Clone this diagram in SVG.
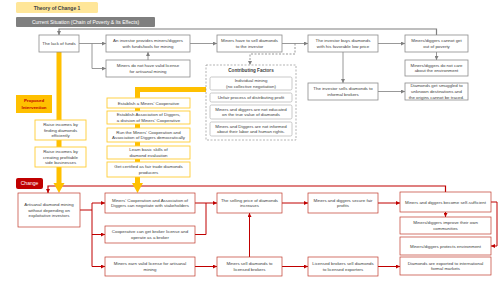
<svg xmlns="http://www.w3.org/2000/svg" width="500" height="281" viewBox="0 0 500 281">
<style>
text{font-family:"Liberation Sans",Arial,sans-serif;font-size:4.4px;fill:#404040;text-anchor:middle}
.g rect{fill:#fff;stroke:#8c8c8c;stroke-width:0.8}
.y rect{fill:#fff;stroke:#ffcc33;stroke-width:0.9}
.r rect{fill:#fff;stroke:#c0392b;stroke-width:0.7}
.cf rect{fill:#fff;stroke:#a6a6a6;stroke-width:0.6}
.gl{fill:none;stroke:#7f7f7f;stroke-width:0.8}
.rl{fill:none;stroke:#c00000;stroke-width:1}
.yl{fill:none;stroke:#ffc000;stroke-width:5}
</style>
<defs>
<marker id="ga" markerUnits="userSpaceOnUse" markerWidth="4" markerHeight="4" refX="4" refY="2" orient="auto"><path d="M0,0 L4,2 L0,4 z" fill="#7f7f7f"/></marker>
<marker id="ra" markerUnits="userSpaceOnUse" markerWidth="4" markerHeight="4" refX="4" refY="2" orient="auto"><path d="M0,0 L4,2 L0,4 z" fill="#c00000"/></marker>
</defs>

<g id="title"><rect x="16" y="2" width="82" height="11" rx="1.5" fill="#ffe699"/><text x="57" y="9.5" style="font-size:5px;font-weight:bold">Theory of Change 1</text></g>
<g id="current"><rect x="16" y="17" width="139" height="10" rx="1" fill="#7f7f7f"/><text x="85.5" y="23.7" style="font-size:5px;fill:#fff">Current Situation (Chain of Poverty &amp; Its Effects)</text></g>

<g id="connectors-top">
<path class="gl" style="stroke-width:1.2" d="M436.5,35 V29 H59 V35" marker-end="url(#ga)"/>
<path class="gl" d="M79,43.5 H106" marker-end="url(#ga)"/>
<path class="gl" d="M92,43.5 V68.5 H106" marker-end="url(#ga)"/>
<path class="gl" d="M148,60 V52" marker-end="url(#ga)"/>
<path class="gl" d="M190,43.5 H217" marker-end="url(#ga)"/>
<path class="gl" d="M282,43.5 H308" marker-end="url(#ga)"/>
<path class="gl" d="M378,43.5 H405" marker-end="url(#ga)"/>
<path class="gl" d="M343,52 V83" marker-end="url(#ga)"/>
<path class="gl" d="M378,91.5 H405" marker-end="url(#ga)"/>
<path class="gl" d="M436.5,52 V60" marker-end="url(#ga)"/>
<path class="gl" d="M295,43.5 V54 H250 V65" stroke-dasharray="2,1.5" marker-end="url(#ga)"/>
</g>

<g id="yellow-lines">
<path class="yl" d="M59,52 V184"/>
<path class="yl" d="M206,89.5 H137.5 V184"/>
</g>

<g id="lack" class="g"><rect x="39" y="35" width="40" height="17"/><text x="59" y="45">The lack of funds</text></g>
<g id="investor-provides" class="g"><rect x="106" y="35" width="84" height="17"/><text x="148" y="42.1">An investor provides miners/diggers</text><text x="148" y="47.9">with funds/tools for mining</text></g>
<g id="no-license" class="g"><rect x="106" y="60" width="84" height="17"/><text x="148" y="67.1">Miners do not have valid license</text><text x="148" y="72.9">for artisanal mining</text></g>
<g id="sell-investor" class="g"><rect x="217" y="35" width="65" height="17"/><text x="249.5" y="42.1">Miners have to sell diamonds</text><text x="249.5" y="47.9">to the investor</text></g>
<g id="investor-buys" class="g"><rect x="308" y="35" width="70" height="17"/><text x="343" y="42.1">The investor buys diamonds</text><text x="343" y="47.9">with his favorable low price</text></g>
<g id="investor-sells" class="g"><rect x="308" y="83" width="70" height="17"/><text x="343" y="90.1">The investor sells diamonds to</text><text x="343" y="95.9">informal brokers</text></g>
<g id="poverty" class="g"><rect x="405" y="35" width="63" height="17"/><text x="436.5" y="42.1">Miners/diggers cannot get</text><text x="436.5" y="47.9">out of poverty</text></g>
<g id="environment" class="g"><rect x="405" y="60" width="63" height="16"/><text x="436.5" y="66.6">Miners/diggers do not care</text><text x="436.5" y="72.4">about the environment</text></g>
<g id="smuggled" class="g"><rect x="405" y="83" width="63" height="17"/><text x="436.5" y="87.2">Diamonds get smuggled to</text><text x="436.5" y="93">unknown destinations and</text><text x="436.5" y="98.8">the origins cannot be traced.</text></g>

<g id="contributing" class="cf">
<rect x="206" y="65" width="90" height="75" stroke-dasharray="2,1.5" style="stroke:#7f7f7f"/>
<text x="251" y="72.2" style="font-size:4.6px;font-weight:bold">Contributing  Factors</text>
<rect x="210" y="77" width="82" height="13" rx="1.5"/><text x="251" y="82.1">Individual mining</text><text x="251" y="87.9">(no collective negotiation)</text>
<rect x="210" y="93" width="82" height="9" rx="1.5"/><text x="251" y="99">Unfair process of distributing profit</text>
<rect x="210" y="105" width="82" height="14" rx="1.5"/><text x="251" y="110.6">Miners and diggers are not educated</text><text x="251" y="116.4">on the true value of diamonds</text>
<rect x="210" y="122" width="82" height="14" rx="1.5"/><text x="251" y="127.6">Miners and Diggers are not informed</text><text x="251" y="133.4">about their labor and human rights.</text>
</g>

<g id="proposed"><rect x="16" y="95" width="36" height="18" fill="#ffc000"/><text x="34" y="102.3" style="font-size:4.4px;font-weight:bold;fill:#c00000">Proposed</text><text x="34" y="108.7" style="font-size:4.4px;font-weight:bold;fill:#c00000">Intervention</text></g>

<g id="raise-efficient" class="y"><rect x="35" y="120" width="51" height="20"/><text x="60.5" y="125.7">Raise incomes by</text><text x="60.5" y="131.5">finding diamonds</text><text x="60.5" y="137.3">efficiently</text></g>
<g id="raise-side" class="y"><rect x="35" y="147" width="51" height="20"/><text x="60.5" y="152.7">Raise incomes by</text><text x="60.5" y="158.5">creating profitable</text><text x="60.5" y="164.3">side businesses</text></g>
<g id="establish-coop" class="y"><rect x="107" y="98" width="83" height="10"/><text x="148.5" y="104.5">Establish a Miners' Cooperative</text></g>
<g id="establish-assoc" class="y"><rect x="107" y="111" width="83" height="13"/><text x="148.5" y="116.1">Establish Association of Diggers,</text><text x="148.5" y="121.9">a division of Miners' Cooperative</text></g>
<g id="run-coop" class="y"><rect x="107" y="128" width="83" height="14"/><text x="148.5" y="133.6">Run the Miners' Cooperation and</text><text x="148.5" y="139.4">Association of Diggers democratically</text></g>
<g id="learn" class="y"><rect x="107" y="146" width="83" height="13"/><text x="148.5" y="151.1">Learn basic skills of</text><text x="148.5" y="156.9">diamond evaluation</text></g>
<g id="certified" class="y"><rect x="107" y="162" width="83" height="15"/><text x="148.5" y="168.1">Get certified as fair trade diamonds</text><text x="148.5" y="173.9">producers</text></g>

<g id="change-label"><rect x="16" y="178" width="27" height="11" rx="2" fill="#c00000"/><text x="29.5" y="185.3" style="font-size:5px;fill:#fff">Change</text></g>

<g id="connectors-change">
<path class="rl" style="stroke-width:1.2" d="M445.5,192 V186 H48 V193" marker-end="url(#ra)"/>
<path class="rl" d="M80,210 H92 M92,203 V266.5"/>
<path class="rl" d="M92,203 H105" marker-end="url(#ra)"/>
<path class="rl" d="M92,234.5 H105" marker-end="url(#ra)"/>
<path class="rl" d="M92,266.5 H105" marker-end="url(#ra)"/>
<path class="rl" d="M195,203 H217" marker-end="url(#ra)"/>
<path class="rl" d="M195,234.5 H206 V203"/>
<path class="rl" d="M195,266.5 H217" marker-end="url(#ra)"/>
<path class="rl" d="M249.5,257 V213" marker-end="url(#ra)"/>
<path class="rl" d="M282,266.5 H308" marker-end="url(#ra)"/>
<path class="rl" d="M282,203 H308" marker-end="url(#ra)"/>
<path class="rl" d="M378,203 H400" marker-end="url(#ra)"/>
<path class="rl" d="M445.5,212 V217" marker-end="url(#ra)"/>
<path class="rl" d="M491,202 H497 V246 H491" marker-end="url(#ra)"/>
<path class="rl" d="M378,266.5 H400" marker-end="url(#ra)"/>
</g>

<g id="yellow-heads" fill="#ffc000">
<polygon points="53.5,183 64.5,183 59,193"/>
<polygon points="132,183 143,183 137.5,193"/>
</g>

<g id="artisanal" class="r"><rect x="18" y="193" width="62" height="34"/><text x="49" y="205.7">Artisanal diamond mining</text><text x="49" y="211.5">without depending on</text><text x="49" y="217.3">exploitative investors</text></g>
<g id="negotiate" class="r"><rect x="105" y="193" width="90" height="20"/><text x="150" y="201.6">Miners' Cooperation and Association of</text><text x="150" y="207.4">Diggers can negotiate with stakeholders</text></g>
<g id="broker-license" class="r"><rect x="105" y="226" width="90" height="17"/><text x="150" y="233.1">Cooperative can get broker license and</text><text x="150" y="238.9">operate as a broker</text></g>
<g id="earn-license" class="r"><rect x="105" y="257" width="90" height="19"/><text x="150" y="265.1">Miners earn valid license for artisanal</text><text x="150" y="270.9">mining</text></g>
<g id="price" class="r"><rect x="217" y="193" width="65" height="20"/><text x="249.5" y="201.6">The selling price of diamonds</text><text x="249.5" y="207.4">increases</text></g>
<g id="sell-brokers" class="r"><rect x="217" y="257" width="65" height="19"/><text x="249.5" y="265.1">Miners sell diamonds to</text><text x="249.5" y="270.9">licensed brokers</text></g>
<g id="fair-profits" class="r"><rect x="308" y="193" width="70" height="20"/><text x="343" y="201.6">Miners and diggers secure fair</text><text x="343" y="207.4">profits</text></g>
<g id="licensed-brokers" class="r"><rect x="308" y="257" width="70" height="19"/><text x="343" y="265.1">Licensed brokers sell diamonds</text><text x="343" y="270.9">to licensed exporters</text></g>
<g id="self-sufficient" class="r"><rect x="400" y="192" width="91" height="20"/><text x="445.5" y="203.5">Miners and diggers become self-sufficient</text></g>
<g id="communities" class="r"><rect x="400" y="217" width="91" height="17"/><text x="445.5" y="224.1">Miners/diggers improve their own</text><text x="445.5" y="229.9">communities</text></g>
<g id="protect-env" class="r"><rect x="400" y="237" width="91" height="18"/><text x="445.5" y="247.5">Miners/diggers protects environment</text></g>
<g id="exported" class="r"><rect x="400" y="257" width="91" height="18"/><text x="445.5" y="264.6">Diamonds are exported to international</text><text x="445.5" y="270.4">formal markets</text></g>
</svg>
